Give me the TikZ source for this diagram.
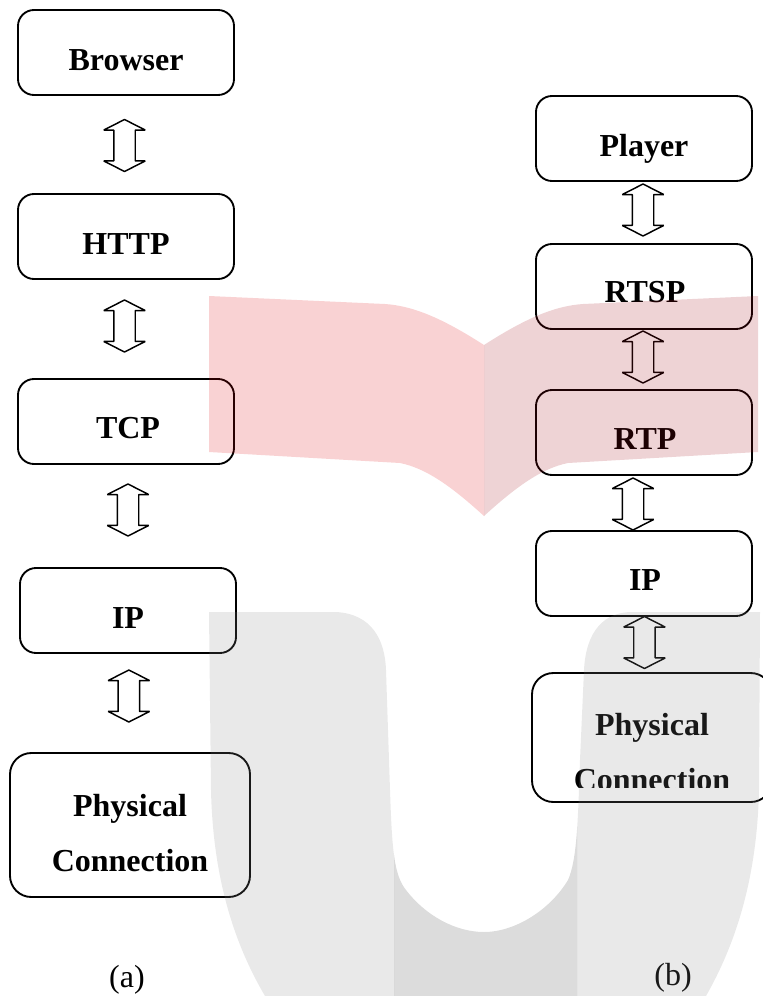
\documentclass[tikz,border=0pt]{standalone}
\usepackage{fontspec}
\setmainfont{Liberation Serif}
\usetikzlibrary{shapes.arrows}
\definecolor{wingleft}{RGB}{222,5,10}
\definecolor{wingright}{RGB}{161,11,22}
\definecolor{cupside}{RGB}{137,137,137}
\definecolor{cupmiddle}{RGB}{68,68,68}
\newcommand{\cuppath}{(209,612) -- (336,612) .. controls (372,614) and (385,640) .. (386,670)
    -- (390,790) .. controls (392,850) and (394,875) .. (406,890)
    .. controls (425,915) and (455,932) .. (484,932)
    .. controls (515,932) and (550,910) .. (568,880)
    .. controls (577,860) and (578,820) .. (580,760) -- (584,670)
    .. controls (586,630) and (605,612) .. (632,612) -- (760,612)
    -- (759,790) .. controls (757,880) and (735,945) .. (706,996)
    -- (265,996) .. controls (235,945) and (213,880) .. (211,790) -- cycle}
\tikzset{
    stackbox/.style={draw, line width=1.4pt, rounded corners=12pt, minimum width=162pt, minimum height=63.75pt},
    widebox/.style={stackbox, rounded corners=16pt, minimum width=180pt},
    stacktext/.style={font=\fontsize{24pt}{24pt}\selectfont\bfseries, anchor=base, inner sep=0pt},
    captiontext/.style={font=\fontsize{24pt}{24pt}\selectfont, anchor=base, inner sep=0pt},
    updown/.style={draw, line width=1.1pt, line join=bevel, double arrow, shape border rotate=90, inner sep=0pt, text width=15pt,
        minimum height=39pt, double arrow head extend=7.5pt, double arrow tip angle=126}
}
\begin{document}
\begin{tikzpicture}[x=0.75pt, y=-0.75pt]
    \useasboundingbox (0,0) rectangle (763,996);

    % column (a)
    \node [stackbox] (browserA) at (126,52.5) {};
    \node [stackbox] (httpA) at (126,236.5) {};
    \node [stackbox] (tcpA) at (126,421.5) {};
    \node [stackbox] (ipA) at (128,610.5) {};
    \node [widebox, minimum height=108pt] (physA) at (130,825) {};

    \node [stacktext] (browserAtext) at (126,70) {Browser};
    \node [stacktext] (httpAtext) at (126,254) {HTTP};
    \node [stacktext] (tcpAtext) at (128,438) {TCP};
    \node [stacktext] (ipAtext) at (128,628) {IP};
    \node [stacktext] (physAtext) at (130,816) {Physical};
    \node [stacktext] (connAtext) at (130,871) {Connection};
    \node [captiontext] (capA) at (127,987) {(a)};

    \path (browserA) -- node [updown, shift={(-1.5,1)}] (arrA1) {} (httpA);
    \path (httpA) -- node [updown, shift={(-1.5,-3)}] (arrA2) {} (tcpA);
    \path (tcpA) -- node [updown, shift={(1,-6)}] (arrA3) {} (ipA);
    \path (ipA) -- node [updown, shift={(0,-7)}] (arrA4) {} (physA);

    % column (b)
    \node [stackbox] (playerB) at (644,138.5) {};
    \node [stackbox] (rtspB) at (644,286.5) {};
    \node [stackbox] (rtpB) at (644,432.5) {};
    \node [stackbox] (ipB) at (644,573.5) {};
    \node [widebox, minimum height=96.75pt] (physB) at (652,737.5) {};

    \node [stacktext] (playerBtext) at (644,156) {Player};
    \node [stacktext] (rtspBtext) at (645,302) {RTSP};
    \node [stacktext] (rtpBtext) at (645,449) {RTP};
    \node [stacktext] (ipBtext) at (645,590) {IP};
    \node [stacktext] (physBtext) at (652,735) {Physical};
    \begin{scope}
        \clip (500,740) rectangle (763,787);
        \node [stacktext] (connBtext) at (652,790) {Connection};
    \end{scope}
    \node [captiontext] (capB) at (673,985) {(b)};

    \path (playerB) -- node [updown, shift={(-1,-2.5)}] (arrB1) {} (rtspB);
    \path (rtspB) -- node [updown, shift={(-1,-2.5)}] (arrB2) {} (rtpB);
    \path (rtpB) -- node [updown, shift={(-11,1)}] (arrB3) {} (ipB);
    \path (ipB) -- node [updown, shift={(-3,-2)}] (arrB4) {} (physB);

    % watermark lies over everything
    \begin{scope}[opacity=0.18]
        \fill [wingleft] (209,296) -- (385,304) .. controls (415,306) and (445,320) .. (484,345)
            -- (484,516) .. controls (450,485) and (425,468) .. (400,463) -- (209,452) -- cycle;
        \fill [wingright] (758,296) -- (583,304) .. controls (553,306) and (523,320) .. (484,345)
            -- (484,516) .. controls (518,485) and (543,468) .. (568,463) -- (758,452) -- cycle;
    \end{scope}
    \begin{scope}[opacity=0.19]
        \begin{scope}
            \clip (200,600) rectangle (394,996);
            \fill [cupside] \cuppath;
        \end{scope}
        \begin{scope}
            \clip (394,600) rectangle (577,996);
            \fill [cupmiddle] \cuppath;
        \end{scope}
        \begin{scope}
            \clip (577,600) rectangle (763,996);
            \fill [cupside] \cuppath;
        \end{scope}
    \end{scope}
\end{tikzpicture}
\end{document}
